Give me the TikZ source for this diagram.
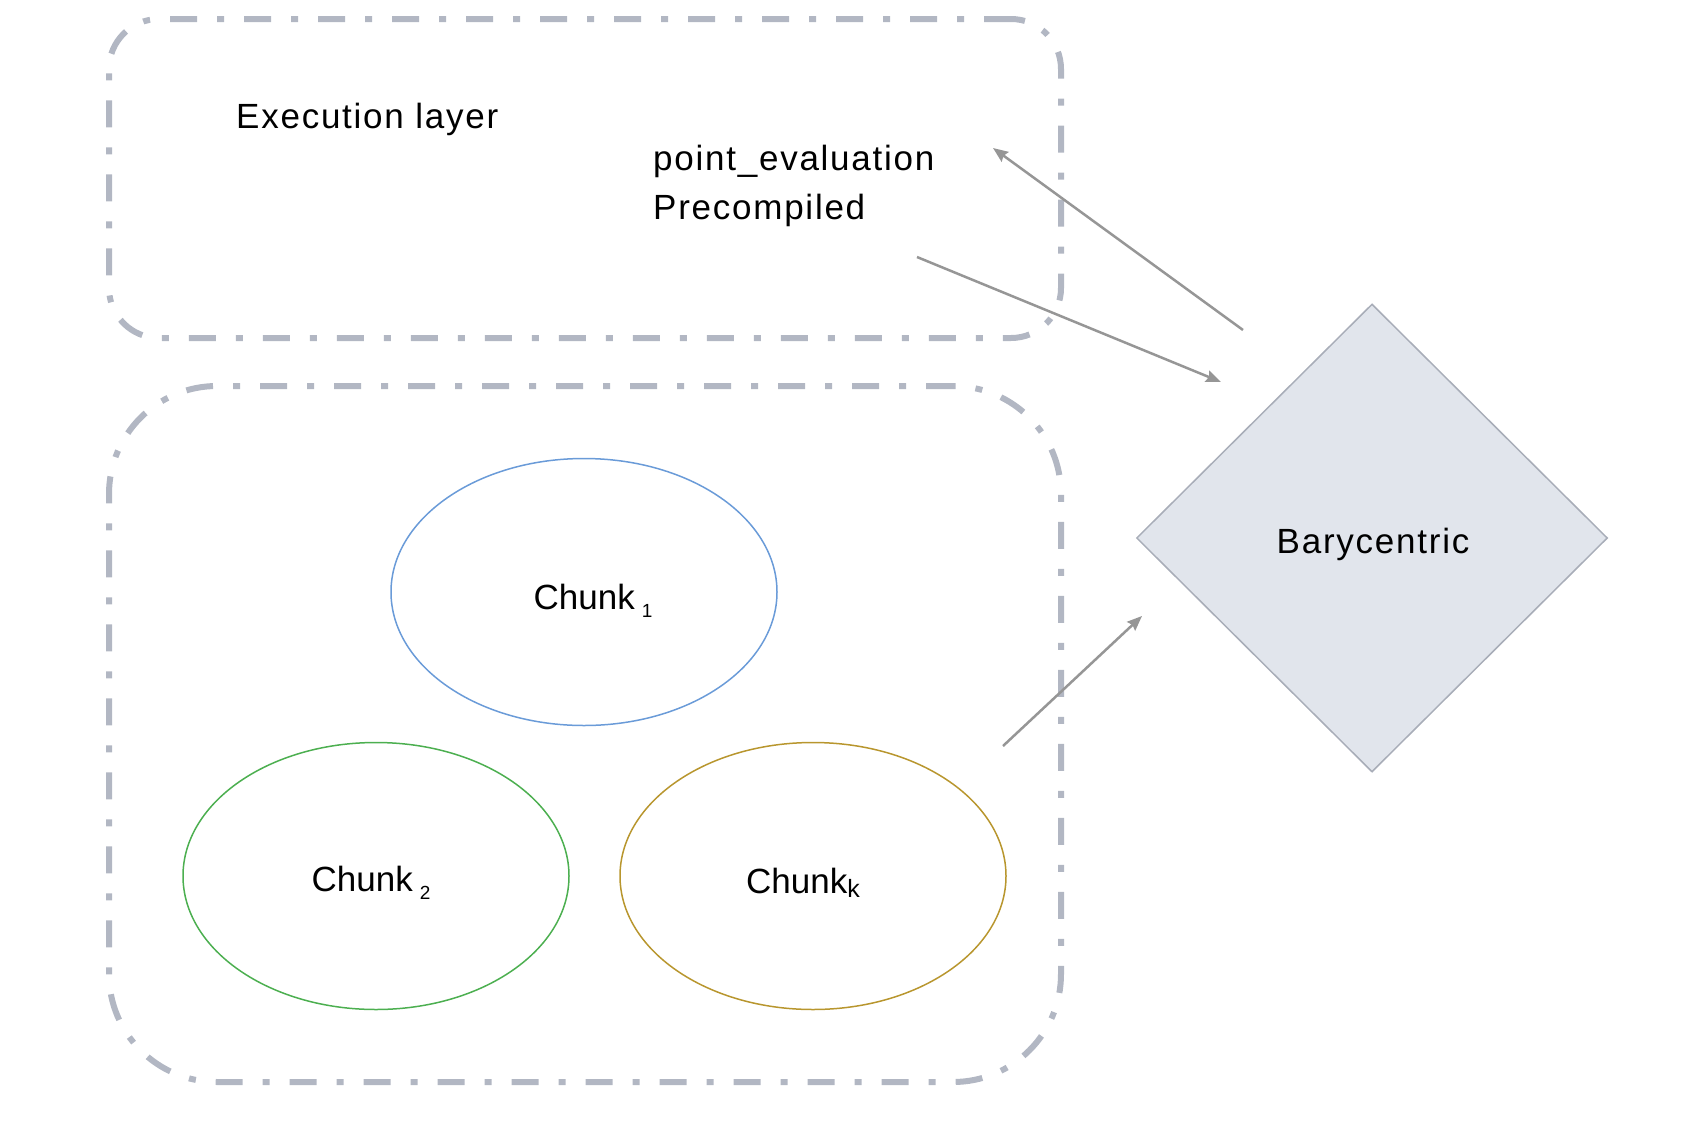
\documentclass[tikz,border=0pt]{standalone}
\usepackage{fontspec}
\setmainfont{Liberation Sans}
\newfontfamily\spaced[LetterSpace=5]{Liberation Sans}
\usetikzlibrary{shapes.geometric,arrows.meta}
\definecolor{groupgray}{RGB}{178,183,195}
\definecolor{arrowgray}{RGB}{150,150,150}
\definecolor{diafill}{RGB}{225,229,236}
\definecolor{diadraw}{RGB}{168,173,184}
\definecolor{cblue}{RGB}{106,155,216}
\definecolor{cgreen}{RGB}{76,175,80}
\definecolor{cgold}{RGB}{184,150,46}
\tikzset{
  group/.style={draw=groupgray, line width=6pt, dash pattern=on 27pt off 20pt on 7pt off 20pt, inner sep=0pt},
  chunk/.style={ellipse, draw, line width=1.5pt, minimum width=386pt, minimum height=267pt, inner sep=0pt},
  flow/.style={draw=arrowgray, line width=2.5pt, -{Stealth[length=15pt,width=12pt,inset=2pt]}},
  txt/.style={font=\fontsize{35}{49}\selectfont, inner sep=0pt},
  stxt/.style={font=\spaced\fontsize{35}{49}\selectfont, inner sep=0pt},
}
\newcommand{\subsc}[1]{\raisebox{-0.45ex}{\fontsize{19}{19}\selectfont #1}}
\begin{document}
\begin{tikzpicture}[x=1pt,y=-1pt]
\useasboundingbox (0,0) rectangle (1706,1120);
\node[group, minimum width=952pt, minimum height=319pt, rounded corners=50pt] (exec) at (585,178.5) {};
\node[group, minimum width=952pt, minimum height=696pt, rounded corners=108pt] (chunks) at (585,734) {};
\node[stxt, anchor=west] (execlabel) at (236,119) {Execution layer};
\node[stxt, anchor=west, align=left] (pe) at (653,185.5) {point\_evaluation\\Precompiled};
\node[chunk, draw=cblue] (c1) at (584,592) {};
\node[chunk, draw=cgreen] (c2) at (376,876) {};
\node[chunk, draw=cgold] (ck) at (813,876) {};
\node[txt] (c1t) at (593,601) {Chunk\kern7pt\subsc{1}};
\node[txt] (c2t) at (371,883) {Chunk\kern7pt\subsc{2}};
\node[txt] (ckt) at (803,883) {Chunk\raisebox{-0.2ex}{\fontsize{25}{25}\selectfont k}};
\node[diamond, draw=diadraw, fill=diafill, line width=1.5pt, minimum width=471pt, minimum height=468pt, inner sep=0pt] (bary) at (1372,538) {};
\node[stxt] (baryt) at (1373,544) {Barycentric};
\coordinate (a1s) at (1243,330);
\coordinate (a1e) at (993,148);
\coordinate (a2s) at (917,257);
\coordinate (a2e) at (1221,382);
\coordinate (a3s) at (1003,746);
\coordinate (a3e) at (1142,616);
\draw[flow] (a1s) -- (a1e);
\draw[flow] (a2s) -- (a2e);
\draw[flow] (a3s) -- (a3e);
\end{tikzpicture}
\end{document}
